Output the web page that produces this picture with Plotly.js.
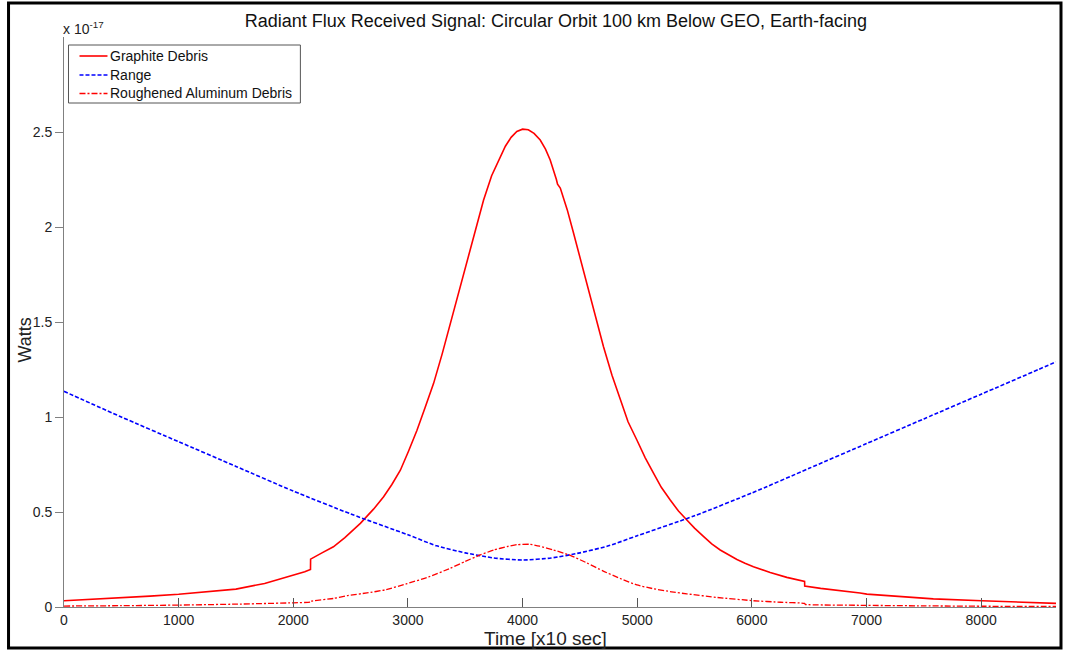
<!DOCTYPE html>
<html>
<head>
<meta charset="utf-8">
<script src="https://cdn.plot.ly/plotly-3.0.1.min.js"></script>
<style>
  html, body { margin: 0; padding: 0; background: #ffffff; }
  #chart { width: 1065px; height: 650px; }
</style>
</head>
<body>
<div id="chart"></div>
<script>
// Time samples [x10 sec] and received radiant flux [x 1e-17 W]
const graphiteTime = [0, 250, 500, 750, 1000, 1250, 1500, 1750, 2000, 2100, 2150, 2151, 2250, 2350, 2450, 2585, 2700, 2788, 2860, 2934, 3005, 3079, 3150, 3224, 3300, 3370, 3440, 3515, 3590, 3660, 3730, 3806, 3850, 3900, 3950, 4000, 4050, 4100, 4154, 4200, 4241, 4295, 4305, 4329, 4390, 4445, 4500, 4561, 4630, 4706, 4780, 4852, 4920, 4997, 5070, 5142, 5210, 5288, 5360, 5433, 5500, 5580, 5650, 5724, 5800, 5870, 5940, 6014, 6160, 6305, 6460, 6461, 6600, 6741, 6944, 7003, 7300, 7583, 8005, 8300, 8653];
const graphiteFlux = [0.033, 0.040, 0.049, 0.057, 0.067, 0.079, 0.094, 0.124, 0.165, 0.185, 0.198, 0.252, 0.285, 0.317, 0.365, 0.44, 0.515, 0.58, 0.645, 0.72, 0.82, 0.93, 1.05, 1.177, 1.335, 1.493, 1.66, 1.826, 1.995, 2.142, 2.27, 2.37, 2.425, 2.472, 2.503, 2.515, 2.512, 2.493, 2.458, 2.41, 2.353, 2.25, 2.225, 2.205, 2.09, 1.967, 1.84, 1.704, 1.535, 1.37, 1.22, 1.089, 0.975, 0.879, 0.785, 0.704, 0.63, 0.563, 0.505, 0.458, 0.415, 0.37, 0.332, 0.30, 0.272, 0.25, 0.23, 0.212, 0.182, 0.156, 0.135, 0.11, 0.098, 0.089, 0.074, 0.068, 0.055, 0.043, 0.033, 0.026, 0.019];

const rangeTime = [0, 500, 1000, 1500, 2000, 2500, 3000, 3250, 3500, 3750, 4000, 4250, 4500, 4750, 5000, 5500, 6000, 6500, 7000, 7500, 8000, 8500, 8653];
const rangeScaled = [1.135, 1.0, 0.87, 0.74, 0.61, 0.49, 0.38, 0.322, 0.285, 0.258, 0.247, 0.258, 0.285, 0.322, 0.375, 0.48, 0.60, 0.73, 0.86, 0.99, 1.12, 1.25, 1.29];

const aluminumTime = [0, 500, 1000, 1500, 2000, 2149, 2150, 2352, 2469, 2643, 2800, 2992, 3166, 3370, 3500, 3631, 3750, 3864, 3950, 4067, 4150, 4270, 4416, 4561, 4700, 4852, 4997, 5142, 5300, 5433, 5700, 6014, 6250, 6460, 6465, 6944, 7500, 8000, 8653];
const aluminumFlux = [0.005, 0.007, 0.010, 0.015, 0.022, 0.026, 0.030, 0.045, 0.060, 0.074, 0.09, 0.123, 0.155, 0.204, 0.24, 0.274, 0.30, 0.318, 0.328, 0.330, 0.32, 0.30, 0.272, 0.232, 0.19, 0.150, 0.116, 0.096, 0.08, 0.069, 0.05, 0.033, 0.025, 0.019, 0.014, 0.009, 0.006, 0.004, 0.003];

const seriesNames = ['Graphite Debris', 'Range', 'Roughened Aluminum Debris'];
const xTicks = [0, 1000, 2000, 3000, 4000, 5000, 6000, 7000, 8000];
const yTicks = [0, 0.5, 1, 1.5, 2, 2.5];

const FONT = 'Arial, "Liberation Sans", sans-serif';

const lineStyles = [
  { color: '#ff0000', width: 1.6 },
  { color: '#0000ff', width: 1.6, dash: '4px,2px' },
  { color: '#ff0000', width: 1.3, dash: '6px,2px,2px,2px' }
];

const traces = [
  {
    x: graphiteTime, y: graphiteFlux, name: seriesNames[0],
    type: 'scatter', mode: 'lines', line: lineStyles[0]
  },
  {
    x: rangeTime, y: rangeScaled, name: seriesNames[1],
    type: 'scatter', mode: 'lines',
    line: Object.assign({ shape: 'spline', smoothing: 0.6 }, lineStyles[1])
  },
  {
    x: aluminumTime, y: aluminumFlux, name: seriesNames[2],
    type: 'scatter', mode: 'lines',
    line: Object.assign({ shape: 'spline', smoothing: 0.4 }, lineStyles[2])
  }
];

// Plot area: left 63.5 px, right edge 1056 px, top 37 px, bottom 607 px
const plotL = 63.5, plotW = 992.5, plotB = 607, plotH = 570;
const px = v => (v - plotL) / plotW;
const py = v => (plotB - v) / plotH;

// Compact boxed legend in the upper-left corner
const legendRows = [56, 75, 93.5];
const legendShapes = [
  {
    type: 'rect', xref: 'paper', yref: 'paper', layer: 'above',
    x0: px(68), x1: px(300), y0: py(103), y1: py(45),
    line: { color: '#555555', width: 1 }, fillcolor: '#ffffff'
  }
].concat(legendRows.map((r, i) => ({
  type: 'line', xref: 'paper', yref: 'paper', layer: 'above',
  x0: px(79), x1: px(107), y0: py(r), y1: py(r),
  line: lineStyles[i]
})));
const legendLabels = legendRows.map((r, i) => ({
  xref: 'paper', yref: 'paper', x: px(108), y: py(r), xanchor: 'left', yanchor: 'middle',
  text: seriesNames[i], showarrow: false,
  font: { family: FONT, size: 14, color: '#111111' }
}));

const layout = {
  width: 1065, height: 650,
  margin: { l: 63.5, r: 9, t: 37, b: 43 },
  paper_bgcolor: '#ffffff', plot_bgcolor: '#ffffff',
  font: { family: FONT, size: 14, color: '#222222' },
  showlegend: false,
  title: {
    text: 'Radiant Flux Received Signal: Circular Orbit 100 km Below GEO, Earth-facing',
    font: { family: FONT, size: 18, color: '#111111' },
    x: 0.522, xanchor: 'center', y: 0.968, yanchor: 'middle'
  },
  xaxis: {
    range: [0, 8653], autorange: false,
    tickvals: xTicks, ticktext: xTicks.map(String),
    ticks: 'inside', ticklen: 9, tickcolor: '#555555', tickwidth: 1,
    showline: true, linecolor: '#808080', linewidth: 1,
    showgrid: false, zeroline: false,
    tickfont: { family: FONT, size: 14, color: '#222222' }
  },
  yaxis: {
    range: [0, 3], autorange: false,
    tickvals: yTicks,
    ticks: 'outside', ticklen: 8, tickcolor: '#808080', tickwidth: 1,
    showline: true, linecolor: '#808080', linewidth: 1,
    showgrid: false, zeroline: false,
    tickfont: { family: FONT, size: 14, color: '#222222' }
  },
  annotations: [
    {
      xref: 'paper', yref: 'paper', x: 0, y: 1, xanchor: 'left', yanchor: 'bottom',
      text: 'x 10<sup>-17</sup>', showarrow: false, yshift: -2, xshift: -3,
      font: { family: FONT, size: 14, color: '#222222' }
    },
    {
      xref: 'paper', yref: 'paper', x: 0.5, y: py(638), xanchor: 'center', yanchor: 'middle',
      xshift: -15,
      text: 'Time [x10 sec]', showarrow: false,
      font: { family: FONT, size: 19, color: '#222222' }
    },
    {
      xref: 'paper', yref: 'paper', x: px(24), y: py(340), xanchor: 'center', yanchor: 'middle',
      text: 'Watts', showarrow: false, textangle: -90,
      font: { family: FONT, size: 18, color: '#222222' }
    }
  ].concat(legendLabels),
  shapes: [
    {
      type: 'rect', xref: 'paper', yref: 'paper',
      x0: px(8), x1: px(1061), y0: py(648), y1: py(3),
      line: { color: '#000000', width: 3 }, fillcolor: 'rgba(0,0,0,0)'
    }
  ].concat(legendShapes)
};

Plotly.newPlot('chart', traces, layout, { displayModeBar: false, staticPlot: true });
</script>
</body>
</html>
